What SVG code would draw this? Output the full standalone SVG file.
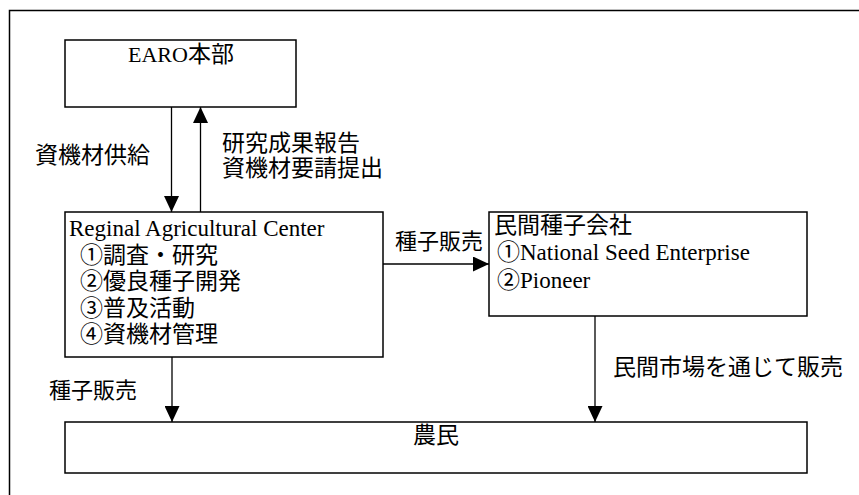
<svg xmlns="http://www.w3.org/2000/svg" width="859" height="495" viewBox="0 0 859 495">
<style>
.box{fill:#fff;stroke:#000;stroke-width:1.5}
.lat{font-family:"Liberation Serif","Noto Sans CJK JP",serif;font-size:23px;fill:#000}
.cjk{font-family:"Noto Sans CJK JP","Liberation Sans",sans-serif;font-size:23px;fill:#000}
.con{fill:none;stroke:#000;stroke-width:1.3}
</style>
<defs>
<marker id="ah" markerUnits="userSpaceOnUse" markerWidth="16" markerHeight="15" refX="16" refY="7.5" orient="auto">
<path d="M0,0 L16,7.5 L0,15 z" fill="#000"/>
</marker>
</defs>
<rect width="859" height="495" fill="#fff"/>
<path d="M9.5,495 V10.5 H859" fill="none" stroke="#000" stroke-width="1.5"/>
<g id="earo">
<rect class="box" x="65" y="40" width="231" height="67"/>
<text x="181" y="62" text-anchor="middle"><tspan class="lat" style="font-size:22px">EARO</tspan><tspan class="cjk">本部</tspan></text>
</g>
<g id="rac">
<rect class="box" x="65" y="212" width="318" height="145"/>
<text class="lat" x="69" y="235.5">Reginal Agricultural Center</text>
<text class="cjk" x="80" y="262.5">①調査・研究</text>
<text class="cjk" x="80" y="289">②優良種子開発</text>
<text class="cjk" x="80" y="315.5">③普及活動</text>
<text class="cjk" x="80" y="342">④資機材管理</text>
</g>
<g id="company">
<rect class="box" x="489" y="212" width="318" height="104"/>
<text class="cjk" x="494" y="233">民間種子会社</text>
<text x="497" y="260"><tspan class="cjk">①</tspan><tspan class="lat">National Seed Enterprise</tspan></text>
<text x="497" y="288"><tspan class="cjk">②</tspan><tspan class="lat">Pioneer</tspan></text>
</g>
<g id="farmers">
<rect class="box" x="65" y="422" width="742" height="51"/>
<text class="cjk" x="436" y="443" text-anchor="middle">農民</text>
</g>
<g id="connectors">
<path class="con" d="M171.5,107 V212" marker-end="url(#ah)"/>
<path class="con" d="M200.5,212 V107" marker-end="url(#ah)"/>
<path class="con" d="M383,264 H489" marker-end="url(#ah)"/>
<path class="con" d="M172,357 V422" marker-end="url(#ah)"/>
<path class="con" d="M595,316 V422" marker-end="url(#ah)"/>
<text class="cjk" x="35" y="163">資機材供給</text>
<text class="cjk" x="222" y="150.5">研究成果報告</text>
<text class="cjk" x="222" y="175.5">資機材要請提出</text>
<text class="cjk" x="395" y="249" style="font-size:22px">種子販売</text>
<text class="cjk" x="613" y="375">民間市場を通じて販売</text>
<text class="cjk" x="49" y="398" style="font-size:22px">種子販売</text>
</g>
</svg>
